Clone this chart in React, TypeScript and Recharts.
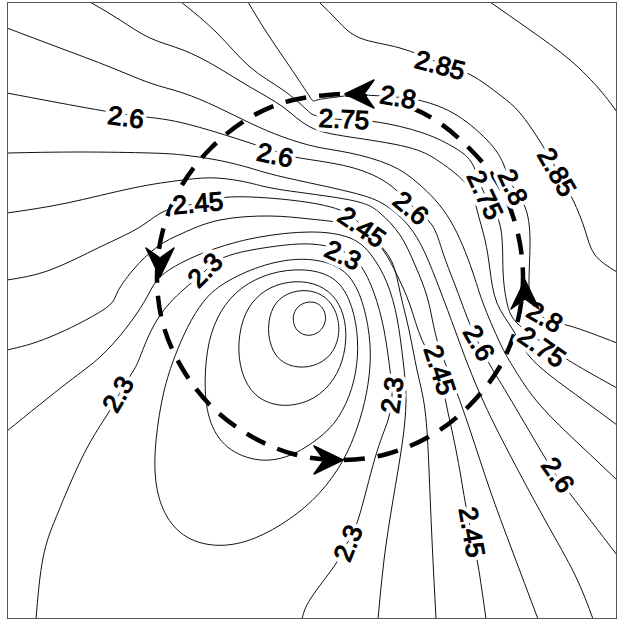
import { LineChart, Line, XAxis, YAxis } from 'recharts';

// map grid, km (x east, y north). contour interval 0.05
const c290 = [[48.3, 61.7], [52.3, 58.9], [56.3, 55.9], [59.3, 52.9], [61, 50.7]];
const c285 = [[31.2, 61.7], [33, 59.9], [35.3, 58.1], [39.3, 57.1], [43.3, 55.6], [46.4, 54.4], [49.3, 52.4], [51.3, 50.6], [53.4, 47.6], [55.1, 44.7], [56.6, 41.9], [57.8, 38.9], [58.8, 36.4], [61, 34.7]];
const c280 = [[24.1, 61.7], [26, 58.6], [28.3, 55.2], [30.3, 52.2], [31, 51.9], [33, 52.2], [35.3, 52.4], [38.8, 52.2], [41.1, 51.9], [44.6, 50.6], [48, 47.9], [49.6, 45.6], [50.5, 43.4], [51.8, 41.2], [52.3, 37.9], [52.2, 33.9], [52.6, 31.4], [54, 29.9], [56.3, 29.3], [61, 27.6]];
const c275 = [[17.4, 61.7], [21, 58.6], [24.3, 55.2], [27.6, 52.9], [30, 50.9], [31.1, 50.3], [33.8, 49.9], [37, 49.7], [41.6, 48.6], [44.8, 47.1], [46.6, 45.4], [47.8, 42.4], [49.3, 39.4], [49.6, 34.9], [50, 31.6], [51, 29.6], [53.6, 27.6], [56.6, 25.6], [61, 23.1]];
const c270 = [[8.3, 61.7], [11.3, 59.9], [14.3, 58.1], [17.6, 56.9], [21, 55.2], [24.3, 53.2], [27.6, 51.2], [30.3, 49.2], [34.3, 48.2], [40, 47.2], [43.3, 45.7], [46, 43.4], [47, 40.9], [47.8, 37.9], [48.3, 34.9], [49, 31.6], [50.6, 28.9], [52.3, 26.2], [55.3, 23.6], [58.3, 21.4], [61, 19.4]];
const c265 = [[0, 59.1], [5.3, 57.1], [10.3, 55.2], [14.3, 53.6], [17.6, 52.6], [21, 51.2], [24.3, 49.6], [27.6, 48.2], [31, 47.2], [34.3, 46.6], [38.3, 45.4], [41.3, 43.4], [44.3, 39.9], [46.5, 34.9], [47.6, 31.6], [49.3, 27.6], [50.8, 24.9], [53.3, 21.4], [57.3, 17.4], [61, 13.9]];
const c260 = [[0, 52.6], [5.3, 51.6], [12.3, 50.4], [17.6, 49.6], [24.3, 47.6], [27, 46.7], [29.3, 46.1], [34.3, 45.2], [38.3, 43.4], [40.6, 41.2], [42.5, 39.4], [43.6, 36.6], [44.8, 33.4], [46, 30.2], [47, 27.9], [48.3, 25.4], [50.1, 22.4], [53.4, 16.8], [54.9, 14.4], [56.4, 12.4], [61, 6.4]];
const c255 = [[0, 46.6], [7.3, 46.7], [14.3, 46.6], [17.6, 46.4], [21, 45.9], [24.3, 45.1], [27.6, 44.2], [34.3, 42.7], [37.8, 41.4], [40.1, 39.4], [41.8, 36.6], [43.3, 32.9], [44.8, 28.9], [46.1, 25.4], [47.8, 21.4], [50.3, 16.4], [53.8, 9.9], [56.8, 4.4], [58.6, 0]];
const c250 = [[0, 40.6], [6, 41.6], [12.6, 43.1], [17.6, 43.9], [21, 44.1], [24.3, 43.6], [27.6, 42.9], [34.3, 41.9], [37.3, 40.6], [39.3, 38.4], [40.8, 35.4], [42.1, 31.9], [43, 27.9], [44.5, 23.9], [46.3, 18.9], [48.3, 12.9], [50.5, 6.9], [53.1, 0]];
const c245 = [[0, 33.9], [4.3, 34.9], [9.3, 37.2], [13.3, 39.2], [16, 40.9], [19.3, 41.6], [22.3, 42.2], [28.3, 41.9], [33.3, 40.9], [35.6, 39.2], [37.6, 36.9], [39, 34.4], [40.3, 31.4], [41.5, 27.9], [43.1, 24.8], [43.9, 21.6], [44.9, 16.9], [45.8, 11.8], [46.4, 8.8], [47.1, 5.4], [47.9, 0]];
const c240 = [[0, 26.9], [4.3, 28.2], [9.6, 30.9], [11, 32.6], [12.6, 34.9], [15, 37.2], [17.6, 38.6], [21.3, 39.9], [26.3, 40.3], [30.3, 40], [34.3, 39.4], [36.8, 37.9], [38.5, 35.7], [39.3, 32.7], [40.2, 28.9], [41, 24.9], [41.8, 20.9], [42.2, 14.9], [42.5, 7.9], [42.9, 0]];
const c235 = [[0, 18.8], [6, 23.6], [9.3, 26.2], [12, 29.2], [14, 32.2], [15.3, 34.2], [18, 35.9], [21.3, 37.2], [25.3, 38.2], [30.3, 38.7], [34.3, 38.1], [36.5, 36.3], [38, 33.6], [39, 30.1], [39.6, 25.9], [39.9, 21.9], [39.5, 17.4], [38.6, 11.9], [37.7, 5.9], [37.1, 0]];
const c230 = [[2.9, 0], [3.6, 6.1], [4.8, 9.9], [6, 12.8], [8, 17.1], [10, 20.4], [11.1, 22.3], [12.5, 24.6], [13.3, 26.2], [15, 29.9], [17.6, 32.9], [19.6, 34.6], [21.8, 36.2], [26.3, 37.2], [30.3, 37.5], [33.3, 36.9], [35.3, 35.4], [36.7, 32.6], [37.7, 28.9], [38.3, 24.9], [38.5, 22.4], [38.1, 19.9], [36.8, 16.1], [35.1, 9.9], [33.9, 7.4], [32.8, 5.4], [30.4, 2.1], [29.5, 0]];
// closed lows around the minimum
const c225 = [[15.6, 22.9], [16.8, 26.4], [18, 29.2], [19.6, 31.9], [21.5, 33.6], [25.3, 35.4], [29.3, 36.2], [32.8, 35.6], [34.8, 33.9], [36, 30.4], [36.5, 26.4], [36, 22.4], [35.1, 19.2], [33.8, 15.9], [31.3, 12.4], [28.3, 9.9], [24.8, 7.9], [21.3, 7.1], [17.8, 7.9], [15.6, 10.4], [14.7, 13.9], [14.8, 17.8]];
const c220 = [[25.3, 15.6], [21.8, 16.9], [20, 19.9], [19.7, 23.9], [20.1, 27.9], [21.3, 30.9], [23.3, 33.2], [26.3, 34.7], [29.8, 35.1], [32.8, 34.3], [34.3, 32.1], [35.1, 28.9], [35.1, 25.4], [34.3, 22.2], [32.8, 19.4], [30.6, 17.6], [28.3, 16.2]];
const c215 = [[27.8, 21.1], [25.1, 21.9], [23.6, 23.9], [23, 26.9], [23.5, 30.1], [24.8, 32.2], [26.8, 33.5], [29.5, 33.9], [31.8, 33.2], [33.3, 31.6], [34, 29.2], [33.8, 26.4], [32.8, 23.9], [30.8, 21.9]];
const c210 = [[28.6, 25.1], [26.8, 26.1], [26, 28.4], [26.3, 30.9], [27.5, 32.4], [29.5, 33], [31.5, 32.6], [32.9, 31.1], [33.4, 28.6], [32.5, 26.3], [30.7, 25.2]];
const c205 = [[29.8, 28.3], [28.8, 28.9], [28.5, 30.2], [29, 31.3], [30.1, 31.8], [31.3, 31.6], [32, 30.4], [31.7, 29.1], [30.8, 28.4]];

// circulation path (dashed) and its direction arrows
const pathPts = [[33.3, 52.5], [28.6, 51.9], [24.2, 50.1], [20.4, 47.1], [17.5, 43.4], [15.6, 38.9], [15, 34.2], [15.6, 29.5], [17.5, 25.1], [20.4, 21.3], [24.2, 18.4], [28.6, 16.5], [33.3, 15.9], [38, 16.5], [42.5, 18.4], [46.2, 21.3], [49.2, 25.1], [51, 29.5], [51.6, 34.2], [51, 38.9], [49.2, 43.4], [46.2, 47.1], [42.5, 50.1], [38, 51.9], [33.3, 52.5]];
const arrowPts = [
  { x: 33.8, y: 52.5, dir: 180 },
  { x: 15.3, y: 34.2, dir: 90 },
  { x: 33.6, y: 15.9, dir: 0 },
  { x: 51.8, y: 33.9, dir: -90 },
];

const labelPts = [
  { x: 43.3, y: 55.4, text: '2.85', angle: 15 },
  { x: 55.0, y: 44.7, text: '2.85', angle: 60 },
  { x: 39.1, y: 52.2, text: '2.8', angle: 10 },
  { x: 50.6, y: 43.2, text: '2.8', angle: 65 },
  { x: 53.8, y: 30.2, text: '2.8', angle: 30 },
  { x: 33.7, y: 50.0, text: '2.75', angle: 3 },
  { x: 47.8, y: 42.4, text: '2.75', angle: 65 },
  { x: 53.5, y: 27.2, text: '2.75', angle: 35 },
  { x: 11.9, y: 50.2, text: '2.6', angle: 8 },
  { x: 26.8, y: 46.4, text: '2.6', angle: 12 },
  { x: 40.4, y: 41.1, text: '2.6', angle: 40 },
  { x: 47.2, y: 27.6, text: '2.6', angle: 60 },
  { x: 55.1, y: 14.4, text: '2.6', angle: 55 },
  { x: 19.1, y: 41.6, text: '2.45', angle: -5 },
  { x: 35.5, y: 39.2, text: '2.45', angle: 35 },
  { x: 43.3, y: 24.9, text: '2.45', angle: 72 },
  { x: 46.5, y: 8.7, text: '2.45', angle: 80 },
  { x: 19.8, y: 34.9, text: '2.3', angle: -45 },
  { x: 33.6, y: 36.4, text: '2.3', angle: 25 },
  { x: 38.5, y: 22.4, text: '2.3', angle: -82 },
  { x: 34.1, y: 7.6, text: '2.3', angle: -68 },
  { x: 11.1, y: 22.5, text: '2.3', angle: -60 },
];

const toPts = (a: number[][]) => a.map(([x, y]) => ({ x, y }));

const openLines = [c290, c285, c280, c275, c270, c265, c260, c255, c250, c245, c240, c235, c230];
const closedLines = [c225, c220, c215, c210, c205];

const FONT = "'Liberation Sans', Arial, sans-serif";

const renderLabel = (props: any) => {
  const { cx, cy, payload, index } = props;
  if (cx == null || cy == null) return <g key={`lb-${index}`} />;
  const common = {
    x: cx,
    y: cy,
    textAnchor: 'middle' as const,
    dominantBaseline: 'central' as const,
    fontSize: 26,
    fontFamily: FONT,
  };
  return (
    <g key={`lb-${index}`} transform={`rotate(${payload.angle} ${cx} ${cy})`}>
      <text {...common} fill="#fff" stroke="#fff" strokeWidth={9} strokeLinejoin="round">
        {payload.text}
      </text>
      <text {...common} fill="#000" stroke="#000" strokeWidth={1.1}>
        {payload.text}
      </text>
    </g>
  );
};

const renderArrow = (props: any) => {
  const { cx, cy, payload, index } = props;
  if (cx == null || cy == null) return <g key={`ar-${index}`} />;
  return (
    <path
      key={`ar-${index}`}
      d="M0,0 L-29,-14 L-19,0 L-29,14 Z"
      transform={`translate(${cx} ${cy}) rotate(${payload.dir})`}
      fill="#000"
      stroke="#000"
      strokeWidth={1.5}
      strokeLinejoin="round"
    />
  );
};

export default function App() {
  return (
    <div style={{ position: 'fixed', left: 0, top: 0, width: 618, height: 620, background: '#fff' }}>
      <LineChart width={618} height={620} margin={{ top: 2, right: 1, bottom: 1, left: 7 }}>
        <XAxis type="number" dataKey="x" domain={[0, 61]} hide allowDataOverflow />
        <YAxis type="number" dataKey="y" domain={[0, 61.7]} hide allowDataOverflow />
        {openLines.map((c, i) => (
          <Line
            key={`o-${i}`}
            data={toPts(c)}
            dataKey="y"
            type="natural"
            stroke="#111"
            strokeWidth={1}
            dot={false}
            activeDot={false}
            isAnimationActive={false}
          />
        ))}
        {closedLines.map((c, i) => (
          <Line
            key={`c-${i}`}
            data={toPts(c)}
            dataKey="y"
            type="basisClosed"
            stroke="#111"
            strokeWidth={1}
            dot={false}
            activeDot={false}
            isAnimationActive={false}
          />
        ))}
        <Line
          data={labelPts}
          dataKey="y"
          stroke="none"
          dot={renderLabel}
          activeDot={false}
          isAnimationActive={false}
        />
        <Line
          data={toPts(pathPts)}
          dataKey="y"
          type="natural"
          stroke="#000"
          strokeWidth={4.5}
          strokeDasharray="21 13"
          dot={false}
          activeDot={false}
          isAnimationActive={false}
        />
        <Line
          data={arrowPts}
          dataKey="y"
          stroke="none"
          dot={renderArrow}
          activeDot={false}
          isAnimationActive={false}
        />
      </LineChart>
      <div
        style={{
          position: 'absolute',
          left: 7,
          top: 2,
          width: 610,
          height: 617,
          border: '1px solid #555',
          boxSizing: 'border-box',
          pointerEvents: 'none',
        }}
      />
    </div>
  );
}
